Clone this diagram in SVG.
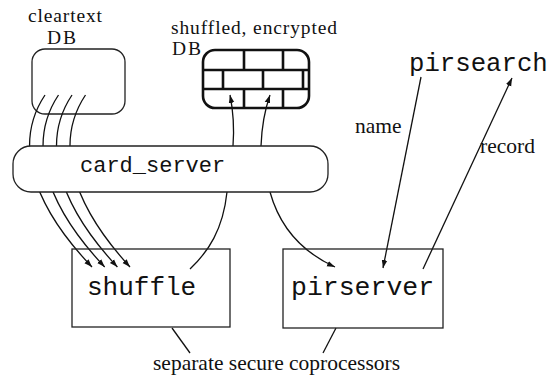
<svg xmlns="http://www.w3.org/2000/svg" width="553" height="377" viewBox="0 0 553 377">
<style>
.lbl{font-family:"Liberation Serif","Times New Roman",serif;font-size:21.5px;fill:#111}
.ttl{font-family:"Liberation Serif","Times New Roman",serif;font-size:19.5px;fill:#111}
.mono{font-family:"Liberation Mono","Courier New",monospace;fill:#111}
.box{fill:none;stroke:#222;stroke-width:1.3}
.wbox{fill:#fff;stroke:#222;stroke-width:1.3}
.ln{fill:none;stroke:#111;stroke-width:1.3}
.arr{fill:none;stroke:#111;stroke-width:1.3;marker-end:url(#ah)}
.brick{fill:none;stroke:#111;stroke-width:2.6}
</style>
<defs>
<marker id="ah" viewBox="0 0 10 10" refX="10" refY="5" markerWidth="8" markerHeight="8" markerUnits="userSpaceOnUse" orient="auto">
<path d="M0,1.5 L10,5 L0,8.5 Z" fill="#111"/>
</marker>
</defs>
<rect width="553" height="377" fill="#fff"/>

<g id="cleartext-db">
<rect class="box" x="32" y="49" width="93" height="65" rx="13"/>
<text class="ttl" x="28" y="22" textLength="74">cleartext</text>
<text class="ttl" x="47" y="44" textLength="29">DB</text>
</g>

<g id="encrypted-db">
<rect class="brick" x="203" y="50" width="106" height="58" rx="12"/>
<path class="brick" d="M203,70 H309 M203,89 H309 M244,50 V70 M283,50 V70 M223,70 V89 M263,70 V89 M303,70 V89 M244,89 V108 M283,89 V108"/>
<text class="ttl" x="171" y="34" textLength="166">shuffled, encrypted</text>
<text class="ttl" x="172" y="55" textLength="29">DB</text>
</g>

<g id="connectors">
<path class="arr" d="M45,95 C15,140 28,200 92,267"/>
<path class="arr" d="M58.5,95 C28.5,140 41.5,200 104.7,267"/>
<path class="arr" d="M72,95 C42,140 55,200 117.4,267"/>
<path class="arr" d="M85.5,95 C55.5,140 68.5,200 130,267"/>
<path class="arr" d="M233,146 Q235,120 230,95"/>
<path class="arr" d="M261,146 Q262,118 270,95"/>
<path class="ln" d="M227,192 C223,230 208,252 190,269"/>
<path class="arr" d="M270,192 C280,228 302,252 335,267"/>
<path class="arr" d="M421,77 L383,268"/>
<path class="arr" d="M423,269 L512,78"/>
<path class="ln" d="M172,328 L190,353"/>
<path class="ln" d="M336,328 L323,353"/>
</g>

<g id="card-server">
<rect class="wbox" x="13" y="146" width="315" height="46" rx="18"/>
<text class="mono" x="80" y="172" font-size="22">card_server</text>
</g>

<g id="shuffle">
<rect class="box" x="72" y="249" width="158" height="78"/>
<text class="mono" x="87" y="295" font-size="26">shuffle</text>
</g>

<g id="pirserver">
<rect class="box" x="283" y="249" width="160" height="79"/>
<text class="mono" x="291" y="295" font-size="26.5">pirserver</text>
</g>

<g id="pirsearch">
<text class="mono" x="409" y="71" font-size="25.7">pirsearch</text>
</g>

<g id="labels">
<text class="lbl" x="355" y="133">name</text>
<text class="lbl" x="480" y="153">record</text>
<text class="lbl" x="153" y="370">separate secure coprocessors</text>
</g>
</svg>
